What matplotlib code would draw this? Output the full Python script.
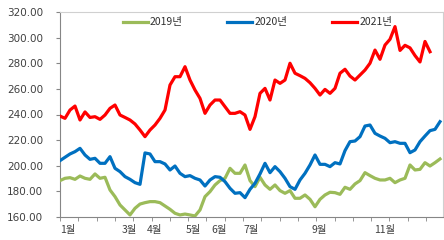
import numpy as np
import matplotlib
matplotlib.use("Agg")
import matplotlib.pyplot as plt

# values, one point every few trading days
y2019 = [188.4, 190.2, 190.7, 189.4, 192.0, 190.2, 189.4, 193.6, 190.2, 191.0,
         181.1, 175.9, 169.4, 165.5, 161.6, 166.8, 170.1, 171.2, 172.0, 172.0,
         171.2, 168.6, 166.0, 162.9, 161.6, 162.3,
         161.6, 160.8, 165.5, 175.9, 179.8, 185.0, 188.4, 190.2, 198.0, 194.1,
         194.1, 200.6, 188.4, 183.7, 191.0, 185.0, 181.6, 185.0, 180.6, 178.5,
         180.6, 174.6, 174.6, 177.2, 173.8, 168.0,
         173.8, 177.2, 179.3, 179.0, 177.7, 183.2, 181.6, 185.8, 188.4, 194.6,
         192.3, 190.2, 188.9, 188.9, 190.2, 186.8, 188.9, 190.2, 200.6, 196.7,
         197.2, 202.4, 199.8, 202.4, 205.3]

y2020 = [204.0, 206.6, 209.2, 211.0, 213.6, 208.4, 205.0, 205.8, 201.9, 201.9,
         207.1, 198.0, 195.4, 191.5, 189.4, 186.8, 185.5, 210.0, 209.2, 203.2,
         203.2, 201.4, 196.7, 199.8, 194.1, 191.5,
         192.3, 190.2, 188.9, 184.2, 188.9, 191.5, 191.0, 187.6, 182.4, 178.5,
         179.0, 175.1, 181.6, 186.3, 193.6, 201.9, 194.6, 199.3, 195.4, 190.2,
         183.7, 181.6, 188.9, 194.1, 200.6, 208.4,
         201.1, 201.1, 199.3, 202.4, 201.4, 211.8, 218.8, 219.3, 222.7, 231.0,
         231.8, 225.3, 223.2, 221.4, 218.0, 218.8, 217.5, 217.5, 210.2, 212.3,
         218.8, 223.2, 227.4, 228.4, 234.4]

y2021 = [238.8, 237.0, 243.5, 246.6, 235.7, 242.0, 237.7, 238.3, 236.2, 239.6,
         244.8, 247.4, 239.6, 237.7, 235.7, 232.6, 227.9, 222.7, 227.9, 231.8,
         237.0, 243.5, 263.0, 269.5, 269.5, 277.3,
         266.9, 259.1, 252.6, 240.9, 247.4, 251.3, 251.3, 246.1, 240.9, 240.9,
         242.2, 239.6, 228.4, 238.3, 256.5, 260.4, 251.3, 266.9, 264.3, 266.9,
         280.0, 272.2, 270.3, 268.2, 264.8, 260.4,
         255.2, 259.6, 256.5, 260.4, 272.2, 275.3, 270.0, 266.9, 270.8, 274.7,
         280.0, 290.3, 283.1, 294.2, 298.7, 308.6, 290.0, 294.0, 292.0, 286.0,
         281.0, 297.0, 289.0]

month_labels = ["1월", "3월", "4월", "5월", "6월", "7월", "9월", "11월"]
month_pos = [1.5, 13.8, 19.0, 26.7, 31.8, 38.3, 51.8, 65.0]

plt.rcParams['font.family'] = ['Noto Sans CJK KR', 'DejaVu Sans']

fig = plt.figure(figsize=(4.44, 2.40), dpi=100)
ax = fig.add_axes([60 / 444, 23 / 240, 383 / 444, 205 / 240])

ax.plot(np.arange(len(y2019)), y2019, color="#9BBB59", lw=2.3, label="2019년", zorder=3)
ax.plot(np.arange(len(y2020)), y2020, color="#0070C0", lw=2.3, label="2020년", zorder=3)
ax.plot(np.arange(len(y2021)), y2021, color="#FF0000", lw=2.3, label="2021년", zorder=4)

ax.set_xlim(0, 76.6)
ax.set_ylim(160, 320)
ax.set_yticks(np.arange(160, 321, 20))
ax.set_yticklabels(["%.2f" % v for v in np.arange(160, 321, 20)],
                   fontsize=7.5, color="#404040", family="DejaVu Sans")

ax.set_xticks(np.arange(0, 76.7, 3.66), minor=True)
ax.set_xticks(month_pos)
ax.set_xticklabels(month_labels, fontsize=7.5, color="#404040")
ax.tick_params(axis="x", which="major", length=0, pad=6)
ax.tick_params(axis="x", which="minor", length=3, color="#868686")
ax.tick_params(axis="y", length=3, color="#868686", pad=9)

for s in ["left", "bottom"]:
    ax.spines[s].set_color("#868686")
for s in ["top", "right"]:
    ax.spines[s].set_color("#D0D0D0")

leg = ax.legend(loc="center", bbox_to_anchor=(0.515, 0.95), ncol=3, frameon=False,
                fontsize=7.5, handlelength=2.4, handletextpad=0.2,
                columnspacing=4.3, labelcolor="#303030")
leg.set_zorder(2)

fig.savefig("out.png", dpi=100)
